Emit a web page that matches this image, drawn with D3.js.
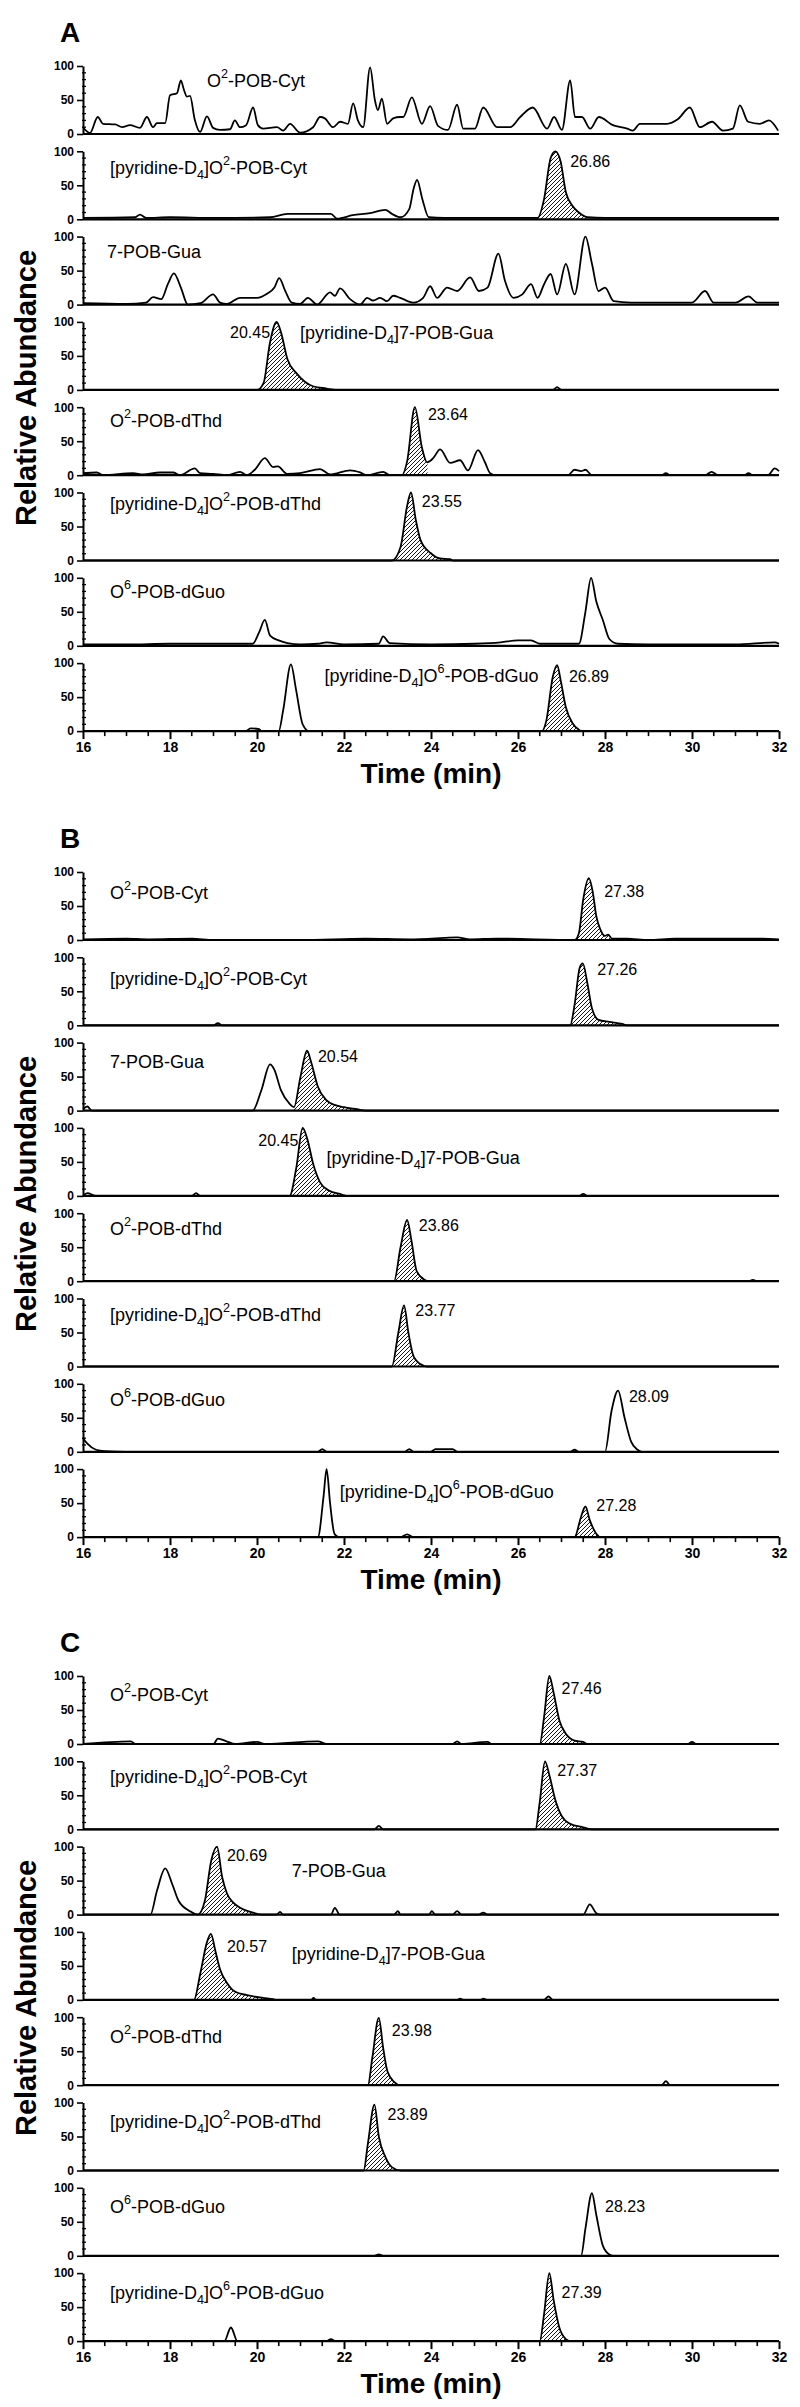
<!DOCTYPE html>
<html>
<head>
<meta charset="utf-8">
<script src="https://cdn.jsdelivr.net/npm/d3@7"></script>
<style>
  body { margin: 0; background: #fff; }
  svg text { font-family: "Liberation Sans", Arial, sans-serif; fill: #000; }
</style>
</head>
<body>
<div id="chart"></div>
<script>
// ---- data ----
const timeTicks = [16, 18, 20, 22, 24, 26, 28, 30, 32];
const abundTicks = [0, 50, 100];
const panelLetters = ["A", "B", "C"];
const trackNames = [
  "O^2-POB-Cyt", "[pyridine-D_4]O^2-POB-Cyt", "7-POB-Gua", "[pyridine-D_4]7-POB-Gua",
  "O^2-POB-dThd", "[pyridine-D_4]O^2-POB-dThd", "O^6-POB-dGuo", "[pyridine-D_4]O^6-POB-dGuo"
];

// panel A traces: [time (min), relative abundance]
const A1 = [[16,10],[16.16,1.5],[16.34,25],[16.46,15],[16.74,14],[16.9,10],[17.08,13],[17.31,9],[17.47,25],[17.61,10],[17.7,16],[17.89,16],[18,57],[18.16,60],[18.25,79],[18.32,65],[18.39,55],[18.46,56],[18.57,21],[18.69,3],[18.85,26],[18.99,9],[19.15,6],[19.38,7],[19.49,20],[19.61,10],[19.75,13],[19.91,39],[20.02,13],[20.14,8],[20.46,10],[20.6,5],[20.76,15],[20.99,2],[21.29,10],[21.45,25],[21.56,23],[21.75,10],[21.91,18],[22.09,15],[22.21,45],[22.32,20],[22.44,10],[22.6,98],[22.71,50],[22.78,35],[22.87,52],[22.99,15],[23.13,23],[23.29,25],[23.36,25],[23.56,54],[23.79,15],[23.98,41],[24.16,12],[24.39,6],[24.6,43],[24.74,8],[25.01,8],[25.2,39],[25.52,10],[25.82,10],[26.05,25],[26.34,39],[26.67,8],[26.83,25],[27.01,6],[27.2,79],[27.31,25],[27.47,25],[27.66,8],[27.86,25],[28.18,13],[28.51,8],[28.64,5],[28.8,15],[29.1,15],[29.43,15],[29.68,22],[29.95,39],[30.18,10],[30.46,18],[30.71,5],[30.94,8],[31.1,42],[31.29,18],[31.56,15],[31.77,20],[31.98,5]];
const A2 = [[16,2],[17.2,3],[17.31,7],[17.45,2],[18,3],[19,2],[20.3,3],[20.7,8],[21.7,8],[21.84,1],[22.2,6],[22.6,9],[22.95,14],[23.1,8],[23.3,3],[23.5,15],[23.6,45],[23.68,58],[23.8,30],[23.95,3],[24.3,2],[25,2],[26,2],[26.45,2],[26.6,30],[26.75,90],[26.86,100],[26.98,85],[27.1,40],[27.25,20],[27.4,10],[27.6,3],[28,2],[29,2],[30,2],[31,2],[32,2]];
const A3 = [[16,2],[17,1],[17.45,3],[17.61,11],[17.8,8],[17.95,30],[18.09,46],[18.25,25],[18.41,0],[18.7,2],[18.99,15],[19.15,3],[19.31,1],[19.61,10],[20,10],[20.23,16],[20.4,25],[20.51,39],[20.65,20],[20.8,3],[20.99,1],[21.17,10],[21.38,0],[21.68,18],[21.79,13],[21.91,24],[22.14,8],[22.37,0],[22.53,10],[22.67,6],[22.83,10],[22.99,5],[23.13,13],[23.29,10],[23.59,3],[23.82,10],[23.98,27],[24.14,10],[24.37,25],[24.6,20],[24.9,40],[25.1,20],[25.3,25],[25.55,75],[25.7,35],[25.9,10],[26.1,15],[26.3,30],[26.45,10],[26.6,30],[26.75,45],[26.9,15],[27.1,60],[27.3,15],[27.55,100],[27.7,60],[27.85,20],[28,25],[28.2,5],[28.6,3],[29,3],[29.5,3],[30,3],[30.3,20],[30.5,3],[31,3],[31.3,12],[31.5,3],[32,3]];
const A4 = [[16,0],[20,0],[20.15,10],[20.3,70],[20.45,100],[20.55,85],[20.7,45],[20.9,25],[21.1,12],[21.3,5],[21.6,2],[21.8,0],[26.8,0],[26.9,4],[27,0],[32,0]];
const A5 = [[16,3],[16.32,4],[16.46,0],[17.15,3],[17.38,1],[17.77,4],[18.07,4],[18.23,0],[18.57,10],[18.69,3],[18.99,2],[19.31,0],[19.61,5],[19.77,0],[19.95,8],[20.18,25],[20.37,12],[20.48,13],[20.69,2],[20.99,3],[21.45,9],[21.68,1],[22.14,7],[22.37,4],[22.53,0],[22.9,5],[23.06,0],[23.33,0],[23.45,20],[23.63,100],[23.79,41],[23.91,19],[24.05,25],[24.21,38],[24.44,18],[24.67,22],[24.85,7],[25.08,37],[25.24,19],[25.36,3],[25.5,0],[27.15,0],[27.3,8],[27.45,6],[27.55,8],[27.7,0],[29.3,0],[29.4,3],[29.5,0],[30.3,0],[30.45,5],[30.6,0],[31.2,0],[31.3,3],[31.4,0],[31.75,0],[31.9,10],[32,6]];
const A6 = [[16,0],[23.1,0],[23.3,20],[23.45,80],[23.54,100],[23.65,60],[23.76,30],[23.99,11],[24.21,3],[24.44,2],[24.5,0],[32,0]];
const A7 = [[16,2],[17,2],[18,3],[19,3],[19.9,3],[20.05,20],[20.18,38],[20.3,15],[20.5,8],[20.7,4],[21,2],[21.4,3],[21.6,5],[22,2],[22.8,3],[22.9,14],[23.05,4],[24,2],[25,3],[25.6,5],[26,8],[26.3,8],[26.5,3],[27.4,3],[27.55,50],[27.68,100],[27.8,65],[27.95,38],[28.1,10],[28.3,3],[29,2],[30,2],[31,2],[31.9,5],[32,3]];
const A8 = [[16,0],[19.75,0],[19.85,4],[20.05,3],[20.1,0],[20.5,0],[20.6,30],[20.78,98],[20.9,60],[21.05,10],[21.2,0],[26.55,0],[26.65,15],[26.8,80],[26.9,97],[26.98,75],[27.1,35],[27.25,12],[27.4,2],[27.45,0],[32,0]];

// panel B traces
const B1 = [[16,1],[17,2],[17.5,1],[18.5,2],[19,0],[21,0],[22.5,2],[23.5,1],[24.3,3],[24.6,4],[24.9,1],[25.5,2],[27.3,0],[27.4,10],[27.5,60],[27.63,91],[27.72,70],[27.8,35],[27.89,16],[28,6],[28.07,8],[28.16,2],[28.5,2],[29,0],[29.6,2],[31.5,2],[32,1]];
const B2 = [[16,0],[19,0],[19.1,3],[19.2,0],[27.2,0],[27.3,30],[27.42,85],[27.49,91],[27.6,60],[27.7,25],[27.85,8],[28.1,5],[28.4,2],[28.5,0],[32,0]];
const B3 = [[16,2],[16.1,6],[16.2,0],[19.9,0],[20.1,30],[20.3,68],[20.4,60],[20.55,30],[20.75,10],[20.85,5],[21,50],[21.15,88],[21.25,70],[21.4,35],[21.6,15],[21.8,8],[22,5],[22.3,2],[22.5,0],[32,0]];
const B4 = [[16,0],[16.1,4],[16.3,0],[18.5,0],[18.6,4],[18.7,0],[20.75,0],[20.9,40],[21.05,100],[21.15,85],[21.3,45],[21.45,20],[21.65,8],[21.95,2],[22.05,0],[27.4,0],[27.5,3],[27.6,0],[32,0]];
const B5 = [[16,0],[23.15,0],[23.3,50],[23.45,90],[23.55,60],[23.67,15],[23.85,2],[23.95,0],[31.3,0],[31.4,2],[31.5,0],[32,0]];
const B6 = [[16,0],[23.1,0],[23.25,50],[23.38,90],[23.48,50],[23.6,15],[23.8,2],[23.9,0],[32,0]];
const B7 = [[16,20],[16.1,12],[16.3,3],[16.5,1],[17,0],[21.4,0],[21.5,4],[21.6,0],[23.4,0],[23.5,4],[23.6,0],[24,0],[24.1,4],[24.5,4],[24.6,0],[27.2,0],[27.3,3],[27.4,0],[28,0],[28.15,60],[28.3,90],[28.45,50],[28.6,15],[28.75,3],[28.85,0],[32,0]];
const B8 = [[16,0],[21.4,0],[21.53,60],[21.6,100],[21.68,50],[21.78,5],[21.88,0],[23.3,0],[23.45,4],[23.6,0],[27.3,0],[27.45,30],[27.55,45],[27.65,25],[27.8,5],[27.9,0],[32,0]];

// panel C traces
const C1 = [[16,0],[17.1,4],[17.2,0],[19,0],[19.1,8],[19.3,4],[19.5,0],[20,3],[20.2,0],[21.4,4],[21.6,0],[24.5,0],[24.6,4],[24.7,0],[25.3,3],[25.4,0],[26.5,0],[26.6,40],[26.72,100],[26.82,75],[26.95,35],[27.1,15],[27.3,5],[27.5,3],[27.6,0],[29.9,0],[30,3],[30.1,0],[32,0]];
const C2 = [[16,0],[22.7,0],[22.8,5],[22.9,0],[26.4,0],[26.5,40],[26.62,100],[26.72,80],[26.85,45],[27,20],[27.2,8],[27.5,3],[27.7,0],[32,0]];
const C3 = [[16,0],[17.55,0],[17.7,35],[17.89,68],[18.05,45],[18.2,20],[18.46,5],[18.64,0],[18.8,20],[18.95,80],[19.08,100],[19.2,55],[19.31,31],[19.45,18],[19.61,10],[19.91,3],[20.1,0],[20.45,0],[20.53,4],[20.6,0],[21.7,0],[21.79,10],[21.9,0],[23.15,0],[23.24,5],[23.3,0],[23.95,0],[24.02,5],[24.1,0],[24.5,0],[24.6,5],[24.7,0],[25.1,0],[25.2,3],[25.3,0],[27.5,0],[27.65,15],[27.8,2],[27.9,0],[32,0]];
const C4 = [[16,0],[18.55,0],[18.7,40],[18.85,85],[18.94,97],[19.05,70],[19.15,45],[19.31,25],[19.5,12],[19.77,7],[20.14,3],[20.37,1],[20.45,0],[21.25,0],[21.3,3],[21.35,0],[24.6,0],[24.67,2],[24.75,0],[25.15,0],[25.2,2],[25.3,0],[26.6,0],[26.7,5],[26.8,0],[32,0]];
const C5 = [[16,0],[22.55,0],[22.65,40],[22.8,99],[22.9,55],[23,20],[23.15,5],[23.3,0],[29.3,0],[29.4,6],[29.5,0],[32,0]];
const C6 = [[16,0],[22.45,0],[22.55,40],[22.7,97],[22.8,50],[22.95,20],[23.1,5],[23.3,0],[32,0]];
const C7 = [[16,0],[22.7,0],[22.8,2],[22.9,0],[27.45,0],[27.55,40],[27.7,92],[27.8,60],[27.95,15],[28.1,2],[28.2,0],[32,0]];
const C8 = [[16,0],[19.25,0],[19.4,20],[19.55,0],[21.6,0],[21.7,3],[21.8,0],[26.5,0],[26.6,40],[26.72,100],[26.82,60],[26.95,20],[27.1,3],[27.2,0],[32,0]];

const traces = [
  [A1, A2, A3, A4, A5, A6, A7, A8],
  [B1, B2, B3, B4, B5, B6, B7, B8],
  [C1, C2, C3, C4, C5, C6, C7, C8]
];
// hatched (integrated) peak, time range
const hatchA = [null, [26.45, 27.6], null, [20.0, 21.8], [23.33, 23.92], [23.1, 24.45], null, [26.55, 27.45]];
const hatchB = [[27.3, 28.2], [27.2, 28.5], [20.85, 22.5], [20.75, 22.05], [23.15, 23.95], [23.1, 23.9], null, [27.3, 27.9]];
const hatchC = [[26.5, 27.6], [26.4, 27.7], [18.64, 20.0], [18.55, 20.4], [22.55, 23.3], [22.45, 23.3], null, [26.5, 27.2]];
const hatches = [hatchA, hatchB, hatchC];
// retention time labels
const rtA = ["", "26.86", "", "20.45", "23.64", "23.55", "", "26.89"];
const rtB = ["27.38", "27.26", "20.54", "20.45", "23.86", "23.77", "28.09", "27.28"];
const rtC = ["27.46", "27.37", "20.69", "20.57", "23.98", "23.89", "28.23", "27.39"];
const rtLabels = [rtA, rtB, rtC];

// ---- annotation placement (time, abundance, anchor) ----
const namePos = [
  [[18.85,76],[16.62,74],[16.55,76],[20.99,82],[16.62,78],[16.62,82],[16.62,78],[21.55,79]],
  [[16.62,67],[16.62,67],[16.62,70],[21.6,55],[16.62,75],[16.62,75],[16.62,75],[21.9,65]],
  [[16.62,70],[16.62,75],[20.8,63],[20.8,66],[16.62,70],[16.62,70],[16.62,70],[16.62,70]]
];
const rtPos = [
  [null,[27.2,83],null,[20.3,82,"end"],[23.93,88],[23.79,85],null,[27.17,79]],
  [[27.98,70],[27.82,80],[21.4,78],[20.95,80,"end"],[23.72,80],[23.64,80],[28.55,80],[27.8,45]],
  [[27.0,80],[26.9,85],[19.31,85],[19.31,76],[23.1,79],[23.0,80],[28.0,70],[27.0,70]]
];

// ---- layout ----
const W = 800, H = 2407;
const X0 = 83, X1 = 779;
const TOP = 66, STEP = 85.3, TH = 68;
const panelTop = [0, 806, 1610];

const svg = d3.select("#chart").append("svg")
  .attr("width", W).attr("height", H)
  .attr("viewBox", `0 0 ${W} ${H}`);

const defs = svg.append("defs");
defs.append("pattern")
  .attr("id", "hatch")
  .attr("patternUnits", "userSpaceOnUse")
  .attr("width", 4).attr("height", 4)
  .append("path")
  .attr("d", "M-1,1 l2,-2 M0,4 l4,-4 M3,5 l2,-2")
  .attr("stroke", "#000").attr("stroke-width", 0.9);

const x = d3.scaleLinear().domain([16, 32]).range([X0, X1]);

// text with ^sup and _sub
function richText(sel, str) {
  let i = 0, buf = "";
  const flush = () => { if (buf) { sel.append("tspan").text(buf); buf = ""; } };
  while (i < str.length) {
    const c = str[i];
    if ((c === "^" || c === "_") && i + 1 < str.length) {
      flush();
      sel.append("tspan")
        .attr("baseline-shift", c === "^" ? "super" : "sub")
        .attr("font-size", "70%")
        .text(str[i + 1]);
      i += 2;
    } else { buf += c; i++; }
  }
  flush();
}

let clipId = 0;

panelLetters.forEach((letter, p) => {
  const off = panelTop[p];
  const g = svg.append("g");

  g.append("text")
    .attr("x", 60).attr("y", 42 + off)
    .attr("font-size", 28).attr("font-weight", "bold")
    .text(letter);

  g.append("text")
    .attr("transform", `translate(36,${388 + off}) rotate(-90)`)
    .attr("text-anchor", "middle")
    .attr("font-size", 29).attr("font-weight", "bold")
    .text("Relative Abundance");

  traces[p].forEach((data, i) => {
    const zeroY = off + TOP + STEP * i + TH;
    const y = d3.scaleLinear().domain([0, 100]).range([zeroY, zeroY - TH]);
    const tg = g.append("g");

    // y axis
    const ya = tg.append("g")
      .attr("transform", `translate(${X0},0)`)
      .call(d3.axisLeft(y).tickValues(abundTicks).tickSize(6).tickPadding(3).tickSizeOuter(0));
    ya.select(".domain").attr("stroke-width", 2);
    ya.selectAll(".tick line").attr("stroke-width", 1.6);
    ya.selectAll(".tick text")
      .attr("font-family", "'Liberation Sans', Arial, sans-serif")
      .attr("font-size", 12).attr("font-weight", "bold");
    tg.append("g").selectAll("line")
      .data(d3.range(0, 101, 10).filter(v => v % 50 !== 0))
      .join("line")
      .attr("x1", X0 - 1).attr("x2", X0 + 3)
      .attr("y1", d => y(d)).attr("y2", d => y(d))
      .attr("stroke", "#000").attr("stroke-width", 1.3);

    // hatched peak
    const h = hatches[p][i];
    if (h) {
      const id = "clip" + (clipId++);
      defs.append("clipPath").attr("id", id)
        .append("rect")
        .attr("x", x(h[0])).attr("width", x(h[1]) - x(h[0]))
        .attr("y", y(105)).attr("height", TH * 1.1);
      tg.append("path")
        .datum(data)
        .attr("clip-path", `url(#${id})`)
        .attr("fill", "url(#hatch)")
        .attr("d", d3.area().x(d => x(d[0])).y0(y(0)).y1(d => y(d[1])).curve(d3.curveMonotoneX));
    }

    // trace
    tg.append("path")
      .datum(data)
      .attr("fill", "none")
      .attr("stroke", "#000")
      .attr("stroke-width", 1.8)
      .attr("stroke-linejoin", "round")
      .attr("d", d3.line().x(d => x(d[0])).y(d => y(d[1])).curve(d3.curveMonotoneX));

    // baseline
    tg.append("line")
      .attr("x1", X0).attr("x2", X1)
      .attr("y1", zeroY).attr("y2", zeroY)
      .attr("stroke", "#000").attr("stroke-width", 2.2);

    // labels
    const np = namePos[p][i];
    const nt = tg.append("text")
      .attr("x", x(np[0])).attr("y", y(np[1]))
      .attr("dominant-baseline", "middle")
      .attr("font-size", 18);
    richText(nt, trackNames[i]);

    const rp = rtPos[p][i];
    if (rp && rtLabels[p][i]) {
      tg.append("text")
        .attr("x", x(rp[0])).attr("y", y(rp[1]))
        .attr("dominant-baseline", "middle")
        .attr("text-anchor", rp[2] || "start")
        .attr("font-size", 16)
        .text(rtLabels[p][i]);
    }

    // x axis under last track
    if (i === 7) {
      const xa = tg.append("g")
        .attr("transform", `translate(0,${zeroY})`)
        .call(d3.axisBottom(x).tickValues(timeTicks).tickSize(8).tickPadding(3).tickSizeOuter(0));
      xa.select(".domain").remove();
      xa.selectAll(".tick line").attr("stroke-width", 2);
      xa.selectAll(".tick text")
        .attr("font-family", "'Liberation Sans Narrow', 'Liberation Sans', Arial, sans-serif")
        .attr("font-size", 14).attr("font-weight", "bold");
      tg.append("g").selectAll("line")
        .data(d3.range(16.5, 32, 1).concat(d3.range(17, 32, 2)))
        .join("line")
        .attr("x1", d => x(d)).attr("x2", d => x(d))
        .attr("y1", zeroY).attr("y2", zeroY + 5)
        .attr("stroke", "#000").attr("stroke-width", 1.6);

      tg.append("text")
        .attr("x", (X0 + X1) / 2).attr("y", zeroY + 52)
        .attr("text-anchor", "middle")
        .attr("font-size", 28).attr("font-weight", "bold")
        .text("Time (min)");
    }
  });
});
</script>
</body>
</html>
